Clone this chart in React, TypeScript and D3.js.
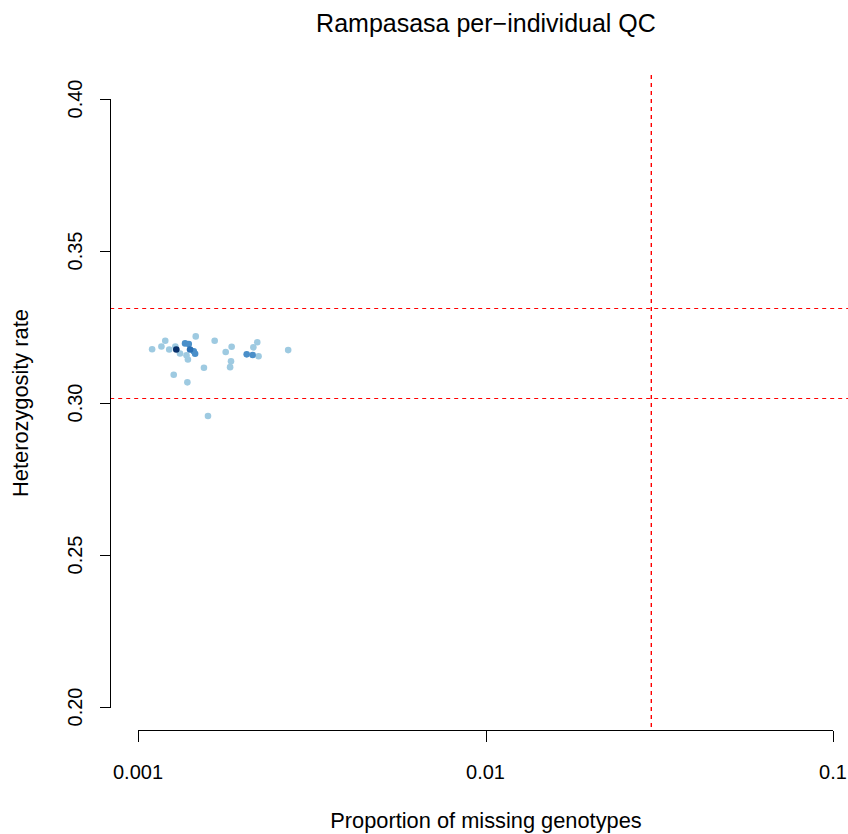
import React from "react";
import * as d3 from "d3";

// Missing-genotype proportion per individual
const missing: number[] = [
  0.001098, 0.001198, 0.001168, 0.001230, 0.001281, 0.001289, 0.001321, 0.001267,
  0.001366, 0.001400, 0.001412, 0.001447, 0.001460, 0.001379, 0.001392, 0.001466,
  0.001387, 0.001548, 0.001662, 0.001788, 0.001860, 0.001852, 0.001841, 0.002055,
  0.002138, 0.002148, 0.002204, 0.002223, 0.002705, 0.001590,
];
// Heterozygosity rate per individual
const hetRate: number[] = [
  0.3177, 0.3205, 0.3186, 0.3176, 0.3186, 0.3176, 0.3163, 0.3093,
  0.3196, 0.3194, 0.3176, 0.3170, 0.3162, 0.3157, 0.3143, 0.3219,
  0.3068, 0.3116, 0.3205, 0.3168, 0.3185, 0.3137, 0.3118, 0.3160,
  0.3158, 0.3183, 0.3200, 0.3154, 0.3174, 0.2957,
];
// Local point density (0 = sparse, 1 = densest)
const density: number[] = [
  0.1, 0.1, 0.1, 0.1, 0.1, 1.0, 0.1, 0.1,
  0.45, 0.45, 0.7, 0.45, 0.45, 0.1, 0.1, 0.1,
  0.1, 0.1, 0.1, 0.1, 0.1, 0.1, 0.1, 0.45,
  0.45, 0.1, 0.1, 0.1, 0.1, 0.1,
];

const xTicks: number[] = [0.001, 0.01, 0.1];
const xTickLabels: string[] = ["0.001", "0.01", "0.1"];
const yTicks: number[] = [0.2, 0.25, 0.3, 0.35, 0.4];
const yTickLabels: string[] = ["0.20", "0.25", "0.30", "0.35", "0.40"];

const hetThresholds: number[] = [0.3313, 0.3016];
const missThreshold: number[] = [0.03];

const title = "Rampasasa per\u2212individual QC";
const xTitle = "Proportion of missing genotypes";
const yTitle = "Heterozygosity rate";

export default function App() {
  const W = 848;
  const H = 834;
  const x = d3.scaleLog().domain([0.001, 0.1]).range([138, 833]);
  const y = d3.scaleLinear().domain([0.2, 0.4]).range([707, 99]);
  // plot region (4% extension, as in base R)
  const [xl, xr] = [x(10 ** (-3 - 0.08)), x(10 ** (-1 + 0.08))];
  const [yb, yt] = [y(0.2 - 0.008), y(0.4 + 0.008)];
  const axisY = Math.round(yb - 1) + 0.5;
  const axisX = Math.round(xl) + 0.5;
  const px = (v: number) => Math.round(v) + 0.5;
  const col = d3.scaleLinear<string>()
    .domain([0.1, 0.45, 0.7, 1.0])
    .range(["#9ecae1", "#4a8fc9", "#2b70b4", "#08306b"])
    .clamp(true);
  const font = "'Liberation Sans', Arial, Helvetica, sans-serif";
  const order = d3.range(missing.length).sort((a, b) => density[a] - density[b]);

  return (
    <svg width={W} height={H} style={{ position: "absolute", left: 0, top: 0, background: "#fff" }}
      fontFamily={font}>
      <rect x={0} y={0} width={W} height={H} fill="#fff" />
      <text x={486} y={32} textAnchor="middle" fontSize={25} fill="#000">{title}</text>

      {/* points */}
      {order.map((i) => (
        <circle key={i} cx={x(missing[i])} cy={y(hetRate[i])} r={3.3} fill={col(density[i])} />
      ))}

      {/* threshold lines */}
      {hetThresholds.map((v, i) => (
        <line key={"h" + i} x1={xl} x2={xr} y1={px(y(v))} y2={px(y(v))} stroke="#ff0000"
          strokeWidth={1} strokeDasharray="4,4" />
      ))}
      {missThreshold.map((v, i) => (
        <line key={"v" + i} x1={x(v)} x2={x(v)} y1={Math.round(yt)} y2={Math.round(yb)} stroke="#ff0000"
          strokeWidth={1.4} strokeDasharray="4,4" />
      ))}

      {/* x axis */}
      <g stroke="#000" strokeWidth={1} fill="none" shapeRendering="crispEdges">
        <line x1={x(0.001)} x2={x(0.1)} y1={axisY} y2={axisY} />
        {xTicks.map((t, i) => (
          <line key={i} x1={px(x(t))} x2={px(x(t))} y1={axisY} y2={axisY + 11} />
        ))}
      </g>
      {xTicks.map((t, i) => (
        <text key={i} x={x(t)} y={779} textAnchor="middle" fontSize={20}>{xTickLabels[i]}</text>
      ))}
      <text x={486} y={828} textAnchor="middle" fontSize={21.8}>{xTitle}</text>

      {/* y axis */}
      <g stroke="#000" strokeWidth={1} fill="none" shapeRendering="crispEdges">
        <line x1={axisX} x2={axisX} y1={y(0.4)} y2={y(0.2)} />
        {yTicks.map((t, i) => (
          <line key={i} x1={axisX} x2={axisX - 11} y1={px(y(t))} y2={px(y(t))} />
        ))}
      </g>
      {yTicks.map((t, i) => (
        <text key={i} transform={`translate(82,${y(t)}) rotate(-90)`} textAnchor="middle" fontSize={20}>
          {yTickLabels[i]}
        </text>
      ))}
      <text transform={`translate(28,${(y(0.2) + y(0.4)) / 2}) rotate(-90)`} textAnchor="middle" fontSize={21.8}>
        {yTitle}
      </text>
    </svg>
  );
}
